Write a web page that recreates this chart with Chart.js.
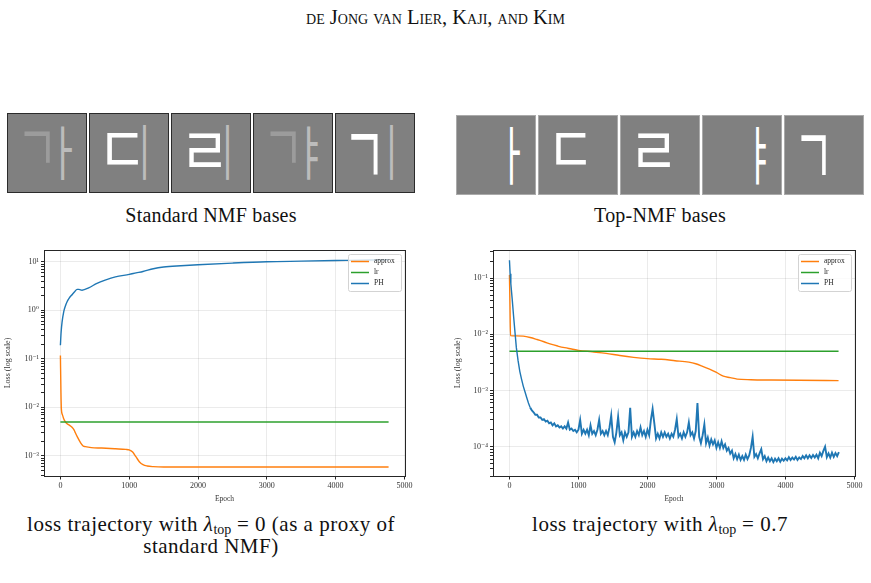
<!DOCTYPE html>
<html>
<head>
<meta charset="utf-8">
<title>Top-NMF loss trajectories</title>
<script src="https://cdn.jsdelivr.net/npm/chart.js@4.4.1/dist/chart.umd.min.js"></script>
<style>
  html, body { margin: 0; padding: 0; background: #fff; }
  #page {
    position: relative; width: 871px; height: 583px; overflow: hidden;
    font-family: "Liberation Serif", "DejaVu Serif", serif; color: #111;
  }
  .runhead {
    position: absolute; left: 0; top: 5px; width: 871px; text-align: center;
    font-size: 20.5px; line-height: 24px; font-variant: small-caps;
  }
  .strip { position: absolute; display: flex; gap: 2px; }
  .tile {
    position: relative; width: 78px; height: 78px; background: #808080;
    border: 1px solid #2b2b2b; overflow: hidden;
  }
  .strip.light .tile { border-color: #aaaaaa; }
  .tile svg { position: absolute; left: 0; top: 0; }
  .cap { position: absolute; text-align: center; line-height: 22px; white-space: nowrap; }
  .cap.bases { font-size: 20px; letter-spacing: 0.2px; }
  .cap.loss { font-size: 21px; letter-spacing: 0.5px; }
  .cap sub { font-size: 14px; vertical-align: -3px; line-height: 0; letter-spacing: 0; }
  canvas { position: absolute; }
</style>
</head>
<body>
<div id="page">
  <div class="runhead">de Jong van Lier, Kaji, and Kim</div>

  <div class="strip" id="std-strip" style="left:7px; top:113px;"></div>
  <div class="strip light" id="top-strip" style="left:456px; top:115px;"></div>

  <div class="cap bases" style="left:0; width:422px; top:204px;">Standard NMF bases</div>
  <div class="cap bases" style="left:449px; width:422px; top:204px;">Top-NMF bases</div>

  <canvas id="std-chart" width="420" height="270" style="left:0; top:240px;"></canvas>
  <canvas id="top-chart" width="421" height="270" style="left:450px; top:240px;"></canvas>

  <div class="cap loss" style="left:0; width:422px; top:513px;">loss trajectory with <i>λ</i><sub>top</sub> = 0 (as a proxy of<br>standard NMF)</div>
  <div class="cap loss" style="left:449px; width:422px; top:513px;">loss trajectory with <i>λ</i><sub>top</sub> = 0.7</div>
</div>

<script>
'use strict';

// ---- lambda_top = 0 (standard NMF) ----
var stdApproxEpochs = [0, 8, 14, 30, 48, 72, 97, 130, 169, 200, 217, 250, 290, 330, 362, 450, 600, 800, 950, 1000, 1050, 1100, 1150, 1200, 1260, 1350, 1500, 2500, 3500, 4770];
var stdApprox = [0.117, 0.02, 0.0092, 0.007, 0.0058, 0.005, 0.0046, 0.0043, 0.0039, 0.0034, 0.003, 0.0024, 0.0019, 0.0016, 0.00155, 0.00148, 0.00145, 0.0014, 0.00136, 0.00133, 0.0012, 0.00095, 0.00075, 0.00066, 0.00062, 0.0006, 0.00059, 0.00059, 0.00059, 0.00059];

var stdPhEpochs = [0, 10, 24, 48, 70, 97, 130, 169, 210, 242, 270, 314, 411, 531, 650, 800, 1000, 1100, 1200, 1350, 1500, 1750, 2000, 2500, 3000, 3500, 4000, 4500, 4770];
var stdPh = [0.19, 0.35, 0.57, 0.93, 1.2, 1.5, 1.8, 2.1, 2.45, 2.7, 2.7, 2.6, 2.9, 3.6, 4.2, 4.9, 5.5, 5.9, 6.3, 7.2, 7.8, 8.3, 8.7, 9.4, 10.0, 10.3, 10.6, 10.9, 11.0];

// ---- lambda_top = 0.7 (Top-NMF) ----
var topApproxEpochs = [0, 8, 15, 100, 200, 300, 400, 500, 600, 700, 800, 900, 1000, 1200, 1400, 1600, 1800, 2000, 2200, 2400, 2600, 2700, 2800, 2900, 3000, 3100, 3200, 3300, 3500, 3800, 4200, 4770];
var topApprox = [0.115, 0.03, 0.0095, 0.0094, 0.0093, 0.0088, 0.0081, 0.0074, 0.0067, 0.0062, 0.0058, 0.0055, 0.0052, 0.0049, 0.0046, 0.0042, 0.0039, 0.0037, 0.0036, 0.0034, 0.0032, 0.003, 0.0027, 0.0024, 0.0021, 0.0018, 0.0017, 0.0016, 0.00156, 0.00154, 0.00152, 0.0015];

var topPhEpochs = [0, 10, 20, 40, 60, 80, 100, 125, 150, 175, 200, 225, 250, 275];
var topPh = [0.21, 0.12, 0.08, 0.042, 0.021, 0.011, 0.0058, 0.0034, 0.0022, 0.0016, 0.0012, 0.00095, 0.00075, 0.0006];

// noisy tail of PH, one reading every 25 epochs from epoch 300
var topPhNoisyStart = 300;
var topPhNoisyStep = 25;
var topPhNoisy = [
  // 300 - 1000
  5.0e-4, 4.4e-4, 4.1e-4, 3.7e-4, 3.7e-4, 3.3e-4, 3.3e-4, 3.0e-4, 3.1e-4, 2.8e-4,
  2.9e-4, 2.6e-4, 2.7e-4, 2.4e-4, 2.6e-4, 2.3e-4, 2.4e-4, 2.2e-4, 2.3e-4, 2.1e-4,
  2.3e-4, 2.1e-4, 2.7e-4, 2.0e-4, 2.1e-4, 1.9e-4, 2.0e-4, 1.8e-4, 2.0e-4,
  // 1025 - 2000
  3.0e-4, 1.7e-4, 2.0e-4, 1.7e-4, 2.0e-4, 1.6e-4, 2.4e-4, 1.7e-4, 1.9e-4, 1.6e-4,
  2.0e-4, 3.0e-4, 1.7e-4, 1.9e-4, 1.6e-4, 1.9e-4, 1.6e-4, 2.2e-4, 3.6e-4, 1.5e-4,
  1.2e-4, 1.8e-4, 3.4e-4, 1.6e-4, 1.8e-4, 1.3e-4, 1.8e-4, 1.5e-4, 1.8e-4, 4.9e-4,
  1.5e-4, 1.8e-4, 1.5e-4, 1.9e-4, 1.6e-4, 2.2e-4, 1.6e-4, 1.9e-4, 1.5e-4, 2.0e-4,
  // 2025 - 3000
  1.6e-4, 3.0e-4, 4.7e-4, 2.6e-4, 1.4e-4, 1.7e-4, 1.4e-4, 1.8e-4, 1.5e-4, 1.8e-4,
  1.5e-4, 1.7e-4, 1.4e-4, 1.7e-4, 1.5e-4, 2.0e-4, 3.1e-4, 1.5e-4, 1.7e-4, 1.4e-4,
  1.8e-4, 1.5e-4, 1.8e-4, 2.7e-4, 1.6e-4, 1.8e-4, 1.4e-4, 1.9e-4, 6.0e-4, 1.5e-4,
  1.15e-4, 1.6e-4, 2.5e-4, 1.15e-4, 1.45e-4, 1.05e-4, 1.35e-4, 1.1e-4, 1.3e-4, 0.95e-4,
  // 3025 - 4000
  1.2e-4, 0.95e-4, 1.25e-4, 0.95e-4, 1.1e-4, 0.85e-4, 0.95e-4, 0.75e-4, 0.85e-4, 0.62e-4,
  0.74e-4, 0.6e-4, 0.72e-4, 0.58e-4, 0.68e-4, 0.58e-4, 0.72e-4, 0.6e-4, 0.7e-4, 0.95e-4,
  1.5e-4, 0.66e-4, 0.74e-4, 0.62e-4, 0.76e-4, 0.9e-4, 0.6e-4, 0.68e-4, 0.55e-4, 0.64e-4,
  0.55e-4, 0.62e-4, 0.53e-4, 0.61e-4, 0.55e-4, 0.62e-4, 0.54e-4, 0.61e-4, 0.56e-4, 0.62e-4,
  // 4025 - 4775
  0.57e-4, 0.65e-4, 0.58e-4, 0.64e-4, 0.59e-4, 0.66e-4, 0.58e-4, 0.64e-4, 0.6e-4, 0.68e-4,
  0.62e-4, 0.7e-4, 0.62e-4, 0.7e-4, 0.63e-4, 0.71e-4, 0.64e-4, 0.72e-4, 0.62e-4, 0.78e-4,
  0.68e-4, 0.84e-4, 1.0e-4, 0.65e-4, 0.76e-4, 0.64e-4, 0.78e-4, 0.66e-4, 0.77e-4, 0.68e-4,
  0.8e-4
];

// learning rate, constant over the run
var lrEpochs = [0, 4770];
var lrValues = [0.005, 0.005];

var xTicks = [0, 1000, 2000, 3000, 4000, 5000];
var seriesLabels = ['approx', 'lr', 'PH'];
var seriesColors = ['#ff7f0e', '#2ca02c', '#1f77b4'];

// basis images: jamo per tile, [glyph, colour, box x0, y0, x1, y1] inside an 80px tile
var stdBases = [
  [['ㄱ', '#9c9c9c', 17, 19, 43, 50], ['ㅏ', '#bcbcbc', 54, 13, 65, 67]],
  [['ㄷ', '#ffffff', 18, 20, 49, 52], ['ㅣ', '#bcbcbc', 54, 12, 57, 67]],
  [['ㄹ', '#ffffff', 18, 20, 50, 54], ['ㅣ', '#bcbcbc', 55, 12, 58, 67]],
  [['ㄱ', '#9c9c9c', 17, 19, 43, 50], ['ㅑ', '#bcbcbc', 54, 13, 65, 67]],
  [['ㄱ', '#ffffff', 16, 21, 43, 62], ['ㅣ', '#bcbcbc', 55, 12, 58, 67]]
];
var topBases = [
  [['ㅏ', '#ffffff', 54, 12, 64, 70]],
  [['ㄷ', '#ffffff', 18, 18, 48, 50]],
  [['ㄹ', '#ffffff', 18, 18, 50, 52]],
  [['ㅑ', '#ffffff', 54, 12, 64, 70]],
  [['ㄱ', '#ffffff', 17, 20, 42, 60]]
];

var SERIF = '"Liberation Serif", "DejaVu Serif", serif';
var SUPERSCRIPT = { '-': '⁻', '0': '⁰', '1': '¹', '2': '²', '3': '³', '4': '⁴', '5': '⁵' };

/**
 * Pair epochs with values as chart points.
 */
function toPoints(xs, ys) {
  return ys.map(function(y, i) { return { x: xs[i], y: y }; });
}

function isDecade(v) {
  var e = Math.log10(v);
  return Math.abs(e - Math.round(e)) < 1e-6;
}

/**
 * Major and minor ticks of a log axis, like matplotlib.
 */
function logTicks(min, max) {
  var ticks = [];
  for (var e = Math.floor(Math.log10(min)); e <= Math.ceil(Math.log10(max)); e++) {
    for (var m = 1; m <= 9; m++) {
      var v = m * Math.pow(10, e);
      if (v >= min && v <= max) {
        ticks.push({ value: v, major: m === 1 });
      }
    }
  }
  return ticks;
}

function decadeLabel(v) {
  var e = String(Math.round(Math.log10(v)));
  return '10' + e.split('').map(function(c) { return SUPERSCRIPT[c]; }).join('');
}

// Axes frame and the in-plot legend.
var frameLegendPlugin = {
  id: 'frameLegend',
  afterDraw: function(chart) {
    var ctx = chart.ctx;
    var a = chart.chartArea;
    ctx.save();
    ctx.strokeStyle = '#262626';
    ctx.lineWidth = 1;
    ctx.strokeRect(Math.round(a.left) + 0.5, Math.round(a.top) + 0.5,
      Math.round(a.right - a.left), Math.round(a.bottom - a.top));

    var bw = 53, bh = 37;
    var bx = Math.round(a.right) - 4 - bw;
    var by = Math.round(a.top) + 4;
    ctx.fillStyle = 'rgba(255,255,255,0.8)';
    ctx.strokeStyle = '#d3d3d3';
    ctx.beginPath();
    ctx.roundRect(bx + 0.5, by + 0.5, bw, bh, 2);
    ctx.fill();
    ctx.stroke();

    ctx.font = '7.5px ' + SERIF;
    ctx.textBaseline = 'middle';
    chart.data.datasets.forEach(function(ds, i) {
      var y = by + 7.5 + i * 11;
      ctx.strokeStyle = ds.borderColor;
      ctx.lineWidth = 1.5;
      ctx.beginPath();
      ctx.moveTo(bx + 3, y);
      ctx.lineTo(bx + 21, y);
      ctx.stroke();
      ctx.fillStyle = '#262626';
      ctx.fillText(ds.label, bx + 26, y);
    });
    ctx.restore();
  }
};

/**
 * Render one loss chart.
 */
function renderLossChart(canvasId, series, yMin, yMax, layout) {
  var ctx = document.getElementById(canvasId).getContext('2d');

  var datasets = series.map(function(points, i) {
    var ds = {
      label: seriesLabels[i],
      data: points,
      borderColor: seriesColors[i],
      backgroundColor: seriesColors[i],
      borderWidth: 1.4,
      pointRadius: 0,
      fill: false,
      tension: 0,
      cubicInterpolationMode: layout.smooth[i] ? 'monotone' : 'default',
      order: series.length - i
    };
    // jittery stretch reads as a thicker band
    if (layout.noisyFrom !== undefined && i === 2) {
      ds.segment = {
        borderWidth: function(c) { return c.p0.parsed.x >= layout.noisyFrom ? 1.9 : 1.4; }
      };
    }
    return ds;
  });

  return new Chart(ctx, {
    type: 'line',
    data: { datasets: datasets },
    options: {
      responsive: false,
      animation: false,
      events: [],
      layout: { padding: { top: 10, right: layout.right, left: 0, bottom: 0 } },
      plugins: {
        legend: { display: false },
        tooltip: { enabled: false }
      },
      scales: {
        x: {
          type: 'linear',
          min: -238.5,
          max: 5008.5,
          afterBuildTicks: function(scale) {
            scale.ticks = xTicks.map(function(v) { return { value: v }; });
          },
          afterFit: function(scale) { scale.height = 34; },
          border: { display: false },
          grid: {
            color: 'rgba(0,0,0,0.08)',
            tickColor: '#262626',
            tickLength: 3.5
          },
          ticks: {
            color: '#333',
            font: { family: SERIF, size: 8 },
            padding: 2,
            maxRotation: 0,
            autoSkip: false,
            callback: function(value) { return String(value); }
          },
          title: {
            display: true,
            text: 'Epoch',
            color: '#333',
            font: { family: SERIF, size: 7.5 },
            padding: { top: 0, bottom: 6 }
          }
        },
        y: {
          type: 'logarithmic',
          min: yMin,
          max: yMax,
          afterBuildTicks: function(scale) {
            scale.ticks = logTicks(yMin, yMax);
          },
          afterFit: function(scale) { scale.width = layout.yWidth; },
          border: { display: false },
          grid: {
            color: function(c) {
              return c.tick && isDecade(c.tick.value) ? 'rgba(0,0,0,0.08)' : 'rgba(0,0,0,0)';
            },
            tickColor: '#262626',
            tickLength: 3
          },
          ticks: {
            color: '#333',
            font: { family: SERIF, size: 8 },
            padding: 2,
            autoSkip: false,
            callback: function(value) {
              return isDecade(value) ? decadeLabel(value) : '';
            }
          },
          title: {
            display: true,
            text: 'Loss (log scale)',
            color: '#333',
            font: { family: SERIF, size: 8 },
            padding: { top: 3, bottom: 0 }
          }
        }
      }
    },
    plugins: [frameLegendPlugin]
  });
}

/**
 * Draw the basis tiles, fitting each jamo into its box.
 */
function renderBases(stripId, bases) {
  var strip = document.getElementById(stripId);
  var mctx = document.createElement('canvas').getContext('2d');
  mctx.font = '400 100px "Noto Sans CJK KR"';
  var NS = 'http://www.w3.org/2000/svg';

  bases.forEach(function(glyphs) {
    var tile = document.createElement('div');
    tile.className = 'tile';
    var svg = document.createElementNS(NS, 'svg');
    svg.setAttribute('width', '78');
    svg.setAttribute('height', '78');
    glyphs.forEach(function(g) {
      var m = mctx.measureText(g[0]);
      var gw = m.actualBoundingBoxLeft + m.actualBoundingBoxRight;
      var gh = m.actualBoundingBoxAscent + m.actualBoundingBoxDescent;
      var sx = (g[4] - g[2]) / gw;
      var sy = (g[5] - g[3]) / gh;
      var tx = g[2] - 1 + m.actualBoundingBoxLeft * sx;
      var ty = g[3] - 1 + m.actualBoundingBoxAscent * sy;
      var t = document.createElementNS(NS, 'text');
      t.setAttribute('x', '0');
      t.setAttribute('y', '0');
      t.setAttribute('fill', g[1]);
      t.setAttribute('font-family', 'Noto Sans CJK KR');
      t.setAttribute('font-size', '100');
      t.setAttribute('transform', 'translate(' + tx + ',' + ty + ') scale(' + sx + ',' + sy + ')');
      t.textContent = g[0];
      svg.appendChild(t);
    });
    tile.appendChild(svg);
    strip.appendChild(tile);
  });
}

renderBases('std-strip', stdBases);
renderBases('top-strip', topBases);

renderLossChart('std-chart', [
  toPoints(stdApproxEpochs, stdApprox),
  toPoints(lrEpochs, lrValues),
  toPoints(stdPhEpochs, stdPh)
], 3.85e-4, 17.5, { right: 15, yWidth: 44, smooth: [true, false, true] });

renderLossChart('top-chart', [
  toPoints(topApproxEpochs, topApprox),
  toPoints(lrEpochs, lrValues),
  toPoints(topPhEpochs, topPh).concat(topPhNoisy.map(function(v, i) {
    return { x: topPhNoisyStart + i * topPhNoisyStep, y: v };
  }))
], 3.0e-5, 0.319, { right: 16, yWidth: 43, smooth: [true, false, false], noisyFrom: topPhNoisyStart });
</script>
</body>
</html>
